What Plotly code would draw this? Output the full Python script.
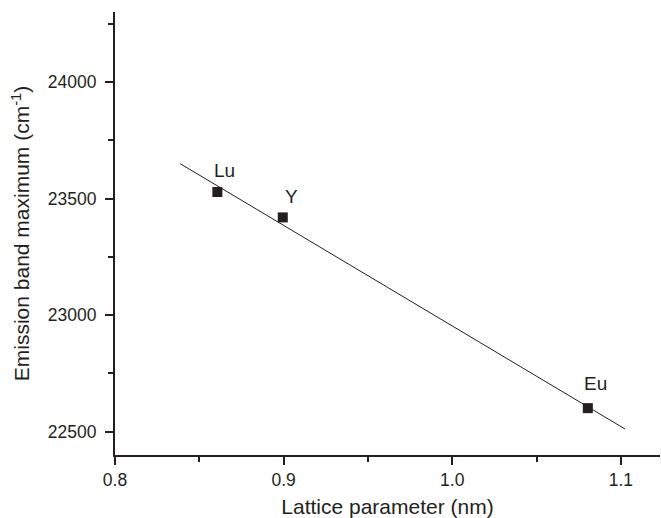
import numpy as np
import plotly.graph_objects as go

labels = ["Lu", "Y", "Eu"]
lattice_nm = [0.8607, 0.8995, 1.0804]
emission_cm = [23528, 23419, 22601]
fit_x_range = [0.8386, 1.1025]
x_ticks = [0.8, 0.9, 1.0, 1.1]
x_ticktext = ["0.8", "0.9", "1.0", "1.1"]
y_ticks = [22500, 23000, 23500, 24000]
y_ticktext = ["22500", "23000", "23500", "24000"]

slope, intercept = np.polyfit(lattice_nm, emission_cm, 1)
fit_x = np.array(fit_x_range)
fit_y = slope * fit_x + intercept

FONT = "Liberation Sans, Arial, sans-serif"
INK = "#231f20"

fig = go.Figure()
fig.add_trace(go.Scatter(x=fit_x, y=fit_y, mode="lines",
                         line=dict(color=INK, width=1), showlegend=False))
fig.add_trace(go.Scatter(x=lattice_nm, y=emission_cm, mode="markers",
                         marker=dict(symbol="square", size=10, color=INK),
                         showlegend=False))

offsets = {"Lu": (7, 22), "Y": (9, 21), "Eu": (8, 25)}
for lab, xv, yv in zip(labels, lattice_nm, emission_cm):
    dx, dy = offsets[lab]
    fig.add_annotation(x=xv, y=yv, text=lab, showarrow=False,
                       xshift=dx, yshift=dy,
                       font=dict(family=FONT, size=19, color=INK))

fig.update_layout(
    width=661, height=518,
    margin=dict(l=115, r=1, t=12, b=63),
    plot_bgcolor="white", paper_bgcolor="white",
    font=dict(family=FONT, size=16, color=INK),
)
fig.update_xaxes(
    range=[0.8, 1.1232], tickvals=x_ticks, ticktext=x_ticktext,
    showline=True, linecolor=INK, linewidth=2, mirror=False,
    showgrid=False, zeroline=False,
    ticks="outside", ticklen=8, tickwidth=1.5, tickcolor=INK,
    minor=dict(tickvals=[0.85, 0.95, 1.05], ticks="outside", ticklen=5,
               tickwidth=1.5, tickcolor=INK),
    tickfont=dict(family=FONT, size=17.5, color=INK),
    title=dict(text="Lattice parameter (nm)", standoff=11,
               font=dict(family=FONT, size=21, color=INK)),
)
fig.update_yaxes(
    range=[22400, 24300], tickvals=y_ticks, ticktext=y_ticktext,
    showline=True, linecolor=INK, linewidth=2, mirror=False,
    showgrid=False, zeroline=False,
    ticks="outside", ticklen=8, tickwidth=1.5, tickcolor=INK,
    ticklabelstandoff=5,
    minor=dict(tickvals=[22750, 23250, 23750, 24250], ticks="outside", ticklen=5,
               tickwidth=1.5, tickcolor=INK),
    tickfont=dict(family=FONT, size=17.5, color=INK),
    title=dict(text="Emission band maximum (cm<sup>-1</sup>)", standoff=12,
               font=dict(family=FONT, size=21, color=INK)),
)

fig.write_html("out.html")
